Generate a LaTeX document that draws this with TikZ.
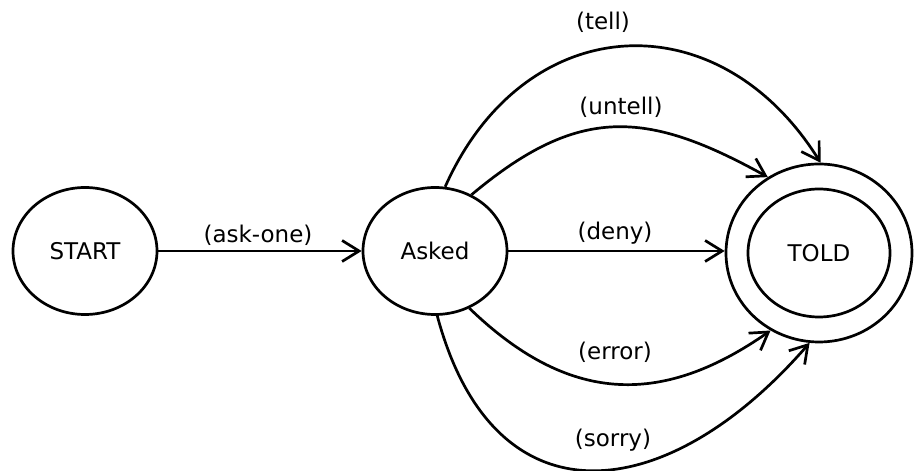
\documentclass[tikz,border=0pt]{standalone}
\usepackage{fontspec}
\setmainfont{DejaVu Sans}
\usetikzlibrary{shapes.geometric,arrows.meta}
\begin{document}
\begin{tikzpicture}[x=1pt,y=1pt,
  line width=2.7pt,
  state/.style={ellipse,draw,inner sep=0pt,font=\fontsize{23}{27}\selectfont},
  lbl/.style={inner sep=0pt,font=\fontsize{23}{27}\selectfont},
  trans/.style={-{Straight Barb[length=17pt,width=21pt,line width=2.7pt]}}]
\useasboundingbox (0,0) rectangle (914,471);

% states
\node[state,minimum width=144pt,minimum height=127pt] (start) at (85,220) {START};
\node[state,minimum width=144pt,minimum height=127pt] (asked) at (435,220) {Asked};
\node[state,minimum width=186pt,minimum height=178pt] (told) at (819,218) {};
\node[state,minimum width=142pt,minimum height=128pt] (toldin) at (told) {TOLD};

% transitions
\draw[trans] (start.east) -- (asked.west);
\draw[trans] (asked.east) -- (asked.east -| told.west);
\draw[trans] (asked.81) to[out=66,in=122,looseness=1.32] (told.89);
\draw[trans] (asked.57) to[out=40,in=151,looseness=1.2] (told.124);
\draw[trans] (asked.-59) to[out=-44,in=215,looseness=1.15] (told.238);
\draw[trans] (asked.-88) to[out=-75,in=229,looseness=1.5] (told.264);

% transition labels
\node[lbl] (l-ask) at (258,236) {(ask-one)};
\node[lbl] (l-tell) at (603,449) {(tell)};
\node[lbl] (l-untell) at (621,364) {(untell)};
\node[lbl] (l-deny) at (615,238) {(deny)};
\node[lbl] (l-error) at (615,119) {(error)};
\node[lbl] (l-sorry) at (613,31) {(sorry)};
\end{tikzpicture}
\end{document}
